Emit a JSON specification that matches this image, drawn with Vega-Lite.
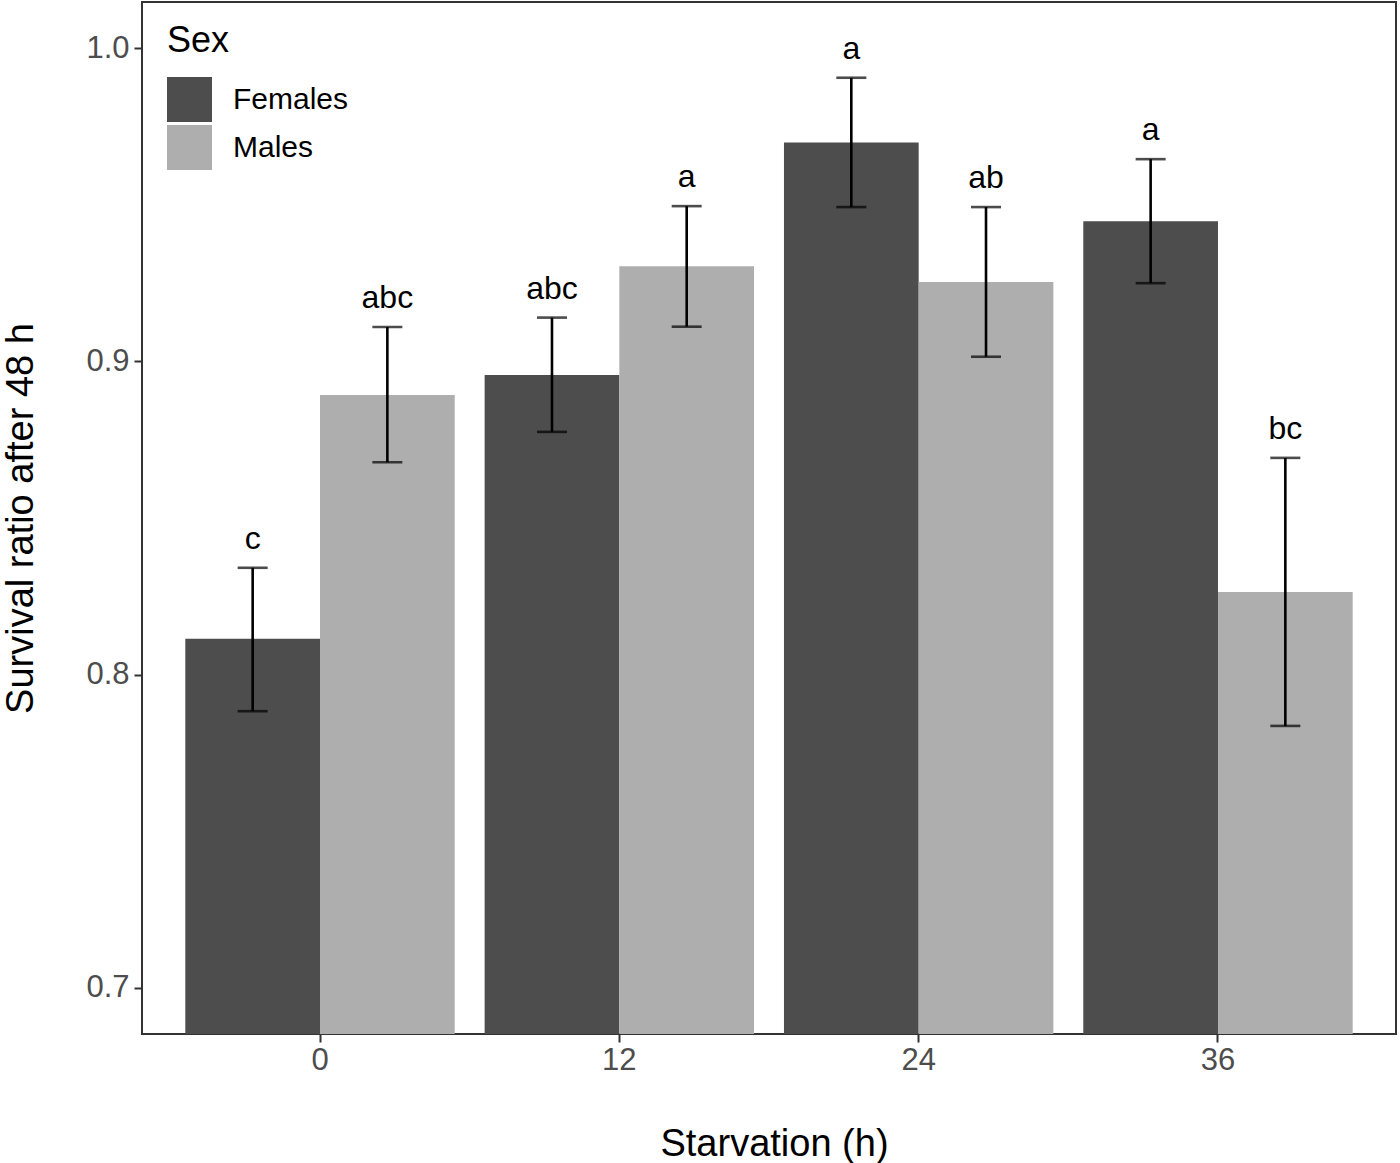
{
  "$schema": "https://vega.github.io/schema/vega-lite/v6.json",
  "autosize": {"type": "none"},
  "padding": {"left": 142, "top": 2, "right": 4, "bottom": 129},
  "width": 1254,
  "height": 1032,
  "background": "white",
  "data": {
    "values": [
      {"starvation": "0", "sex": "Females", "mean": 0.8114, "lo": 0.7883, "hi": 0.8341, "group": "c"},
      {"starvation": "0", "sex": "Males", "mean": 0.8893, "lo": 0.8678, "hi": 0.9110, "group": "abc"},
      {"starvation": "12", "sex": "Females", "mean": 0.8957, "lo": 0.8775, "hi": 0.9140, "group": "abc"},
      {"starvation": "12", "sex": "Males", "mean": 0.9304, "lo": 0.9111, "hi": 0.9496, "group": "a"},
      {"starvation": "24", "sex": "Females", "mean": 0.9699, "lo": 0.9493, "hi": 0.9906, "group": "a"},
      {"starvation": "24", "sex": "Males", "mean": 0.9254, "lo": 0.9015, "hi": 0.9493, "group": "ab"},
      {"starvation": "36", "sex": "Females", "mean": 0.9448, "lo": 0.9250, "hi": 0.9646, "group": "a"},
      {"starvation": "36", "sex": "Males", "mean": 0.8264, "lo": 0.7836, "hi": 0.8692, "group": "bc"}
    ]
  },
  "encoding": {
    "x": {
      "field": "starvation",
      "type": "ordinal",
      "sort": ["0", "12", "24", "36"],
      "title": "Starvation (h)",
      "scale": {"paddingInner": 0.1, "paddingOuter": 0.1447},
      "axis": {
        "labelAngle": 0,
        "labelPadding": 3,
        "titleBaseline": "alphabetic",
        "titleY": 121,
        "titleX": 632
      }
    },
    "xOffset": {
      "field": "sex",
      "type": "nominal",
      "scale": {"paddingInner": 0, "paddingOuter": 0}
    }
  },
  "layer": [
    {
      "mark": {"type": "bar", "clip": true},
      "encoding": {
        "y": {
          "field": "mean",
          "type": "quantitative",
          "title": "Survival ratio after 48 h",
          "scale": {"domain": [0.68521, 1.01479], "zero": false, "nice": false},
          "axis": {
            "values": [0.7, 0.8, 0.9, 1.0],
            "format": ".1f",
            "labelPadding": 5,
            "titleAngle": -90,
            "titleBaseline": "alphabetic",
            "titleAlign": "center",
            "titleX": -110,
            "titleY": 516
          }
        },
        "color": {
          "field": "sex",
          "type": "nominal",
          "title": "Sex",
          "scale": {"domain": ["Females", "Males"], "range": ["#4D4D4D", "#AEAEAE"]},
          "legend": {
            "orient": "none",
            "legendX": 25,
            "legendY": 22,
            "symbolType": "square",
            "symbolSize": 2025,
            "symbolStrokeWidth": 0,
            "symbolOpacity": 1,
            "titleFontSize": 36,
            "titleFontWeight": "normal",
            "titleColor": "black",
            "titlePadding": 17,
            "labelFontSize": 30,
            "labelColor": "black",
            "labelOffset": 21,
            "rowPadding": 3
          }
        }
      }
    },
    {
      "mark": {"type": "rule", "color": "black", "strokeWidth": 2.6},
      "encoding": {
        "y": {"field": "lo", "type": "quantitative"},
        "y2": {"field": "hi"}
      }
    },
    {
      "mark": {"type": "tick", "color": "black", "size": 30, "thickness": 2.6, "orient": "horizontal"},
      "encoding": {"y": {"field": "hi", "type": "quantitative"}}
    },
    {
      "mark": {"type": "tick", "color": "black", "size": 30, "thickness": 2.6, "orient": "horizontal"},
      "encoding": {"y": {"field": "lo", "type": "quantitative"}}
    },
    {
      "mark": {"type": "text", "color": "black", "fontSize": 32, "baseline": "alphabetic", "dy": -19},
      "encoding": {
        "y": {"field": "hi", "type": "quantitative"},
        "text": {"field": "group"}
      }
    }
  ],
  "config": {
    "font": "Liberation Sans",
    "view": {"stroke": "#333333", "strokeWidth": 2},
    "axis": {
      "domain": false,
      "grid": false,
      "ticks": true,
      "tickColor": "#333333",
      "tickWidth": 2,
      "tickSize": 8,
      "labelFontSize": 31,
      "labelColor": "#4D4D4D",
      "titleFontSize": 38,
      "titleFontWeight": "normal",
      "titleColor": "black"
    },
    "legend": {"labelFont": "Liberation Sans", "titleFont": "Liberation Sans"}
  }
}
